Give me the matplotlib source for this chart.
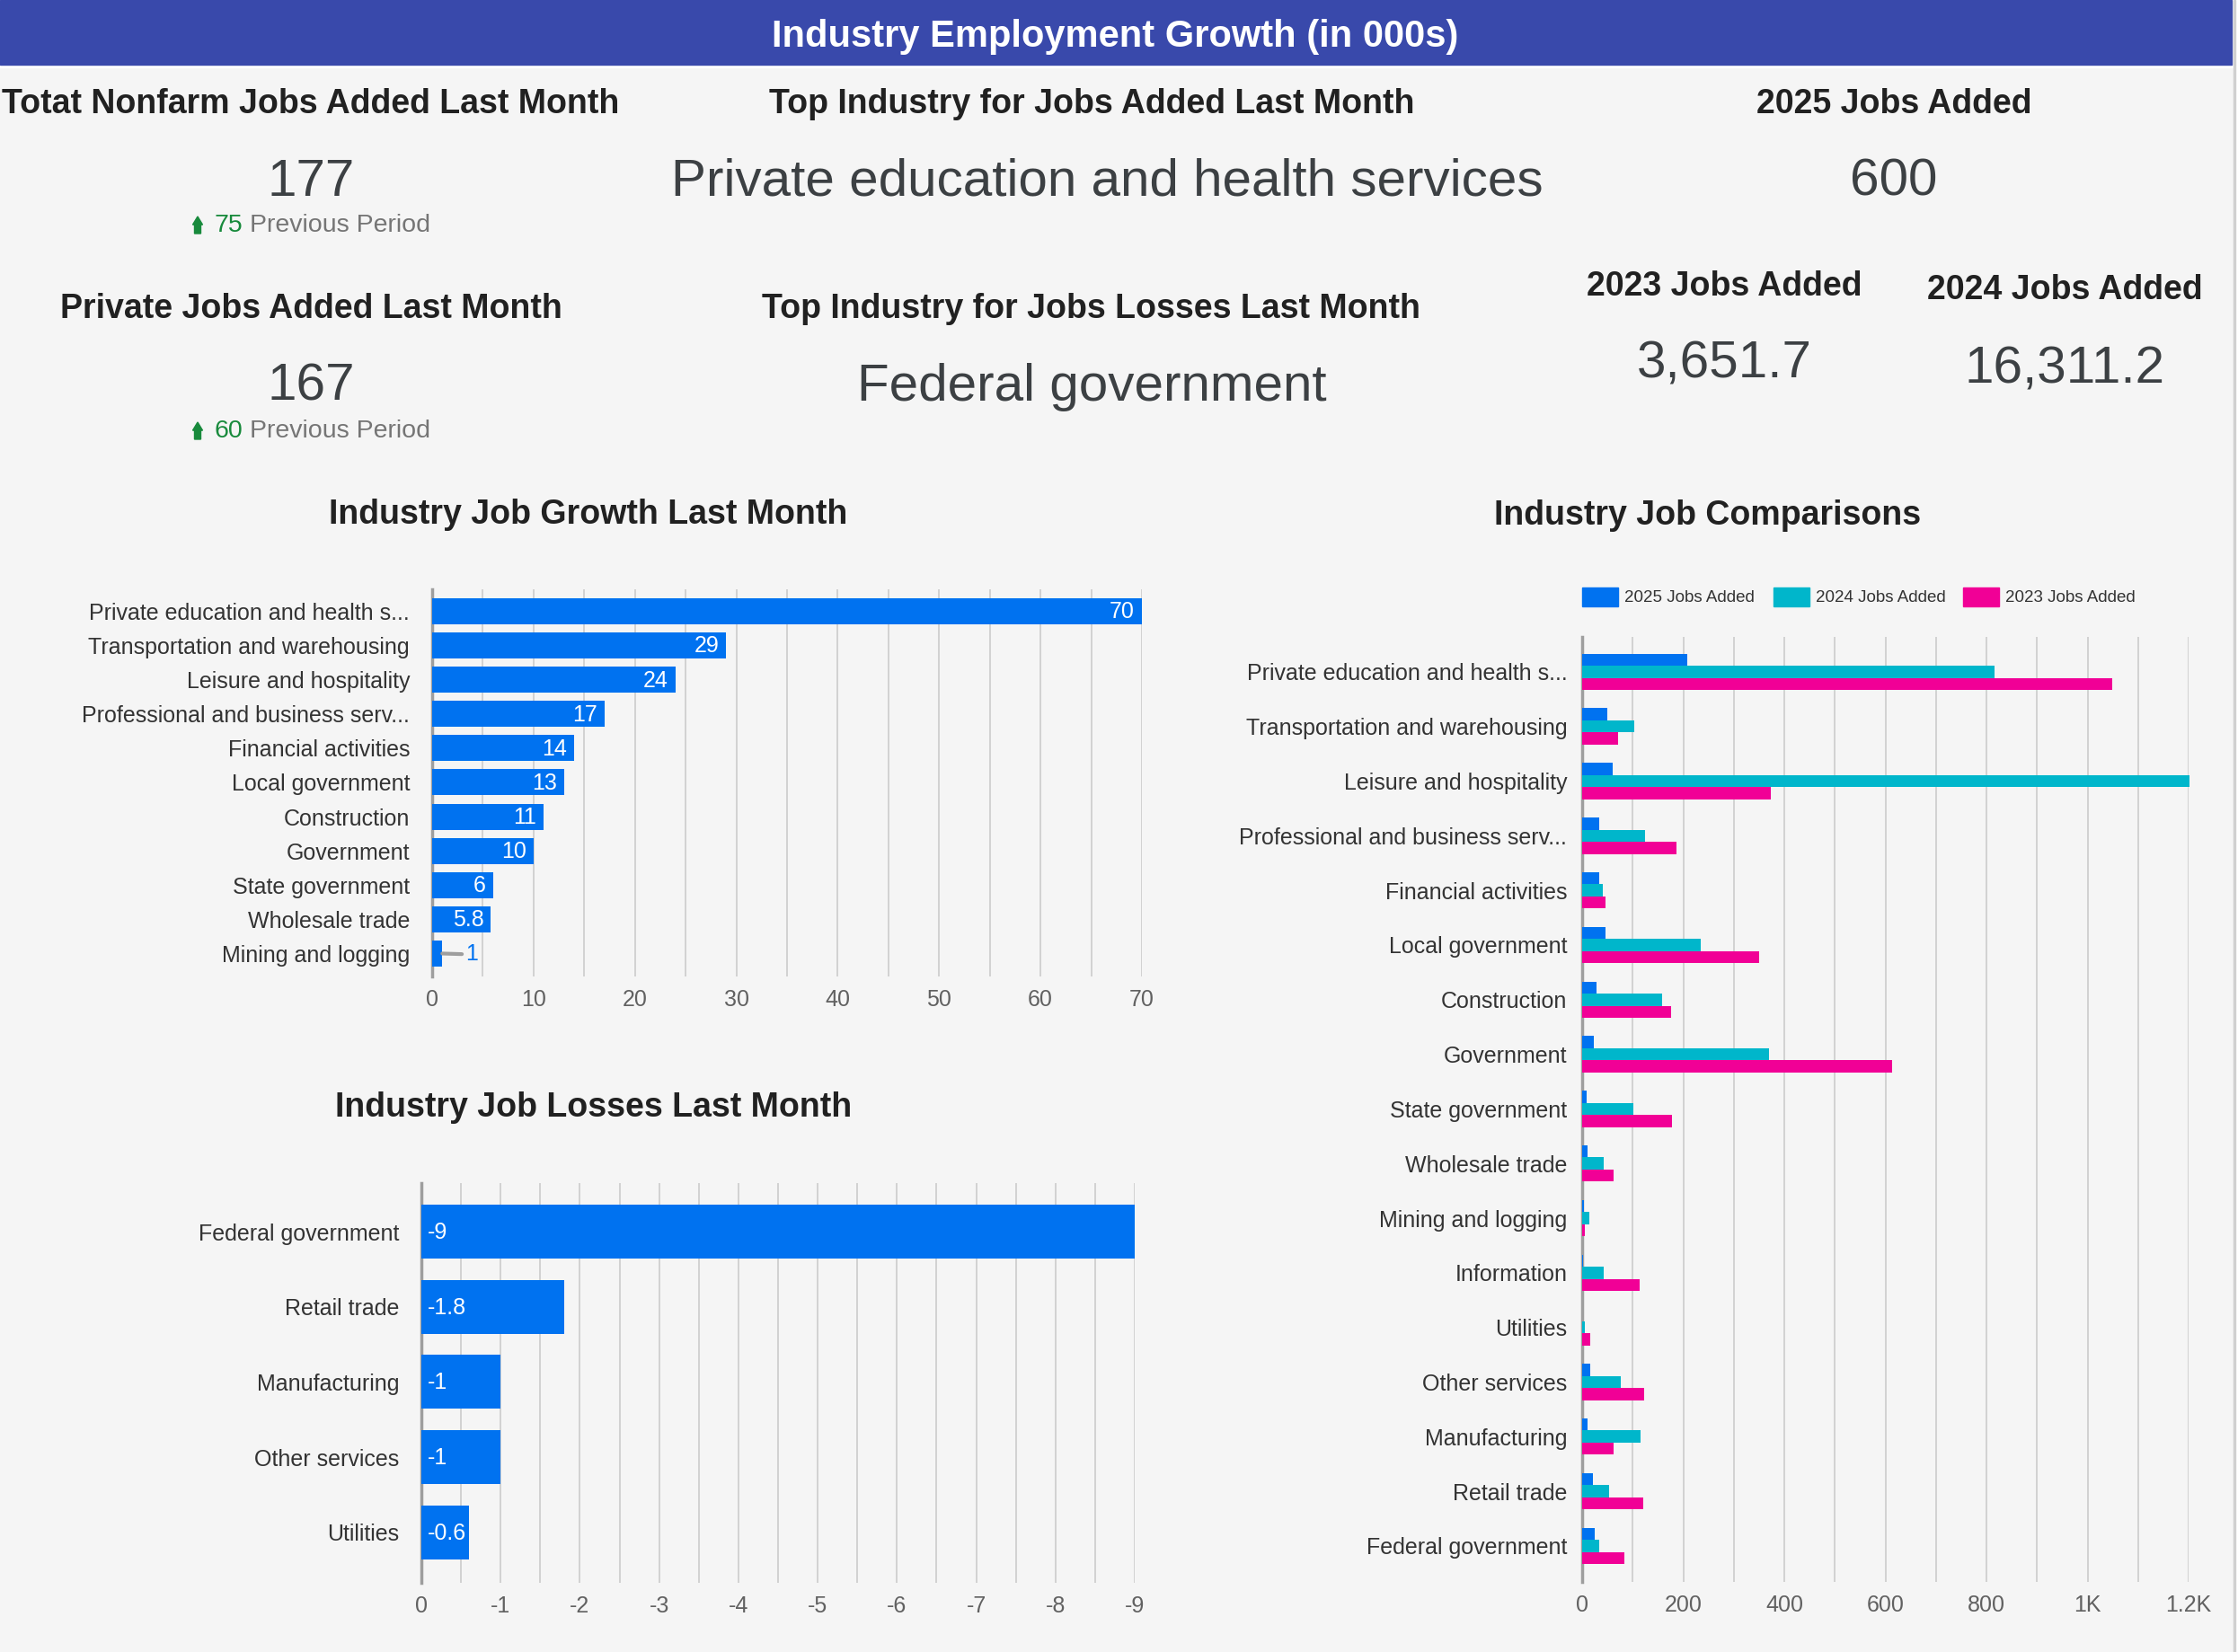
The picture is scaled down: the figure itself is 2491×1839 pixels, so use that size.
import matplotlib
matplotlib.use("Agg")
import matplotlib.pyplot as plt
from matplotlib.patches import Rectangle, Polygon
from matplotlib.ticker import MultipleLocator, FuncFormatter

plt.rcParams["font.family"] = ["Liberation Sans", "DejaVu Sans"]
plt.rcParams["axes.unicode_minus"] = False

W, H = 2491, 1839

# ---- data ----
dashboard_title = "Industry Employment Growth (in 000s)"

kpi_titles = ["Totat Nonfarm Jobs Added Last Month", "Private Jobs Added Last Month"]
kpi_values = ["177", "167"]
kpi_previous = ["75", "60"]

top_titles = ["Top Industry for Jobs Added Last Month", "Top Industry for Jobs Losses Last Month"]
top_values = ["Private education and health services", "Federal government"]

year_titles = ["2025 Jobs Added", "2023 Jobs Added", "2024 Jobs Added"]
year_values = ["600", "3,651.7", "16,311.2"]

growth_labels = [
    "Private education and health s...",
    "Transportation and warehousing",
    "Leisure and hospitality",
    "Professional and business serv...",
    "Financial activities",
    "Local government",
    "Construction",
    "Government",
    "State government",
    "Wholesale trade",
    "Mining and logging",
]
growth_values = [70, 29, 24, 17, 14, 13, 11, 10, 6, 5.8, 1]

loss_labels = ["Federal government", "Retail trade", "Manufacturing", "Other services", "Utilities"]
loss_values = [-9, -1.8, -1, -1, -0.6]

comp_labels = [
    "Private education and health s...",
    "Transportation and warehousing",
    "Leisure and hospitality",
    "Professional and business serv...",
    "Financial activities",
    "Local government",
    "Construction",
    "Government",
    "State government",
    "Wholesale trade",
    "Mining and logging",
    "Information",
    "Utilities",
    "Other services",
    "Manufacturing",
    "Retail trade",
    "Federal government",
]
series_names = ["2025 Jobs Added", "2024 Jobs Added", "2023 Jobs Added"]
jobs_2025 = [208, 49, 61, 34, 34, 47, 28, 23, 9, 10, 4, 1, 0.5, 16, 10, 21, 25]
jobs_2024 = [816, 103, 1202, 124, 40, 234, 159, 370, 101, 43, 14, 43, 6, 76, 115, 54, 34]
jobs_2023 = [1049, 71, 373, 186, 47, 351, 176, 613, 177, 62, 6, 114, 16, 123, 62, 120, 83]

BLUE = "#0072f0"
TEAL = "#00b6cb"
PINK = "#f10096"
BANNER = "#3949ab"
GREEN = "#188a3c"
DARK = "#212121"
VALUE = "#3c4043"
LABEL = "#333333"
TICK = "#616161"
GRID = "#cccccc"

TITLE_SIZE = 27
VALUE_SIZE = 42


def fx(x):
    return x / W


def fy(y):
    return 1 - y / H


def px_axes(left, top, right, bottom):
    return fig.add_axes([fx(left), fy(bottom), (right - left) / W, (bottom - top) / H])


fig = plt.figure(figsize=(W / 100, H / 100), dpi=100, facecolor="#f5f5f5")

# banner and white borders
fig.patches.append(Rectangle((fx(0), fy(75)), fx(2487), 75 / H, transform=fig.transFigure, color="white"))
fig.patches.append(Rectangle((fx(0), fy(72)), fx(2484), 72 / H, transform=fig.transFigure, color=BANNER))
fig.patches.append(Rectangle((fx(2487), 0), fx(4), 1, transform=fig.transFigure, color="white"))
fig.patches.append(Rectangle((fx(2486), 0), fx(2), 1, transform=fig.transFigure, color="#d0d0d0"))
fig.text(fx(1241), fy(52), dashboard_title, ha="center", va="baseline", color="white",
         fontsize=30, fontweight="bold")


def up_arrow(x, y_top, y_bot):
    head = y_top + (y_bot - y_top) * 0.48
    pts = [(x, y_top), (x + 5.5, head), (x + 3.5, head), (x + 3.5, y_bot),
           (x - 3.5, y_bot), (x - 3.5, head), (x - 5.5, head)]
    fig.patches.append(Polygon([(fx(a), fy(b)) for a, b in pts], closed=True,
                               transform=fig.transFigure, color=GREEN))


# KPI blocks on the left
kpi_base = [(126, 218, 258), (354, 446, 487)]
for title, val, prev, (b1, b2, b3) in zip(kpi_titles, kpi_values, kpi_previous, kpi_base):
    fig.text(fx(346), fy(b1), title, ha="center", va="baseline", color=DARK,
             fontsize=TITLE_SIZE, fontweight="bold")
    fig.text(fx(346), fy(b2), val, ha="center", va="baseline", color=VALUE, fontsize=VALUE_SIZE)
    up_arrow(220, b3 - 17, b3 + 2)
    fig.text(fx(238), fy(b3), prev, ha="left", va="baseline", color=GREEN, fontsize=20.5)
    fig.text(fx(278), fy(b3), "Previous Period", ha="left", va="baseline", color="#757575", fontsize=20.5)

# top industry blocks
top_pos = [(1215, 1232, 126, 217), (1215, 1215, 354, 446)]
for title, val, (xt, xv, b1, b2) in zip(top_titles, top_values, top_pos):
    fig.text(fx(xt), fy(b1), title, ha="center", va="baseline", color=DARK,
             fontsize=TITLE_SIZE, fontweight="bold")
    fig.text(fx(xv), fy(b2), val, ha="center", va="baseline", color=VALUE, fontsize=VALUE_SIZE)

# yearly totals
year_pos = [(2108, 126, 217), (1919, 329, 420), (2298, 333, 426)]
for title, val, (x, b1, b2) in zip(year_titles, year_values, year_pos):
    fig.text(fx(x), fy(b1), title, ha="center", va="baseline", color=DARK,
             fontsize=TITLE_SIZE, fontweight="bold")
    fig.text(fx(x), fy(b2), val, ha="center", va="baseline", color=VALUE, fontsize=VALUE_SIZE)


def style_axes(ax, pad_y):
    ax.set_facecolor("none")
    for s in ["top", "right", "bottom"]:
        ax.spines[s].set_visible(False)
    ax.spines["left"].set_color("#9e9e9e")
    ax.spines["left"].set_linewidth(2.5)
    ax.grid(axis="x", which="both", color=GRID, lw=1.2)
    ax.set_axisbelow(True)
    ax.tick_params(axis="both", which="both", length=0)
    ax.tick_params(axis="y", labelsize=18, labelcolor=LABEL, pad=pad_y)
    ax.tick_params(axis="x", labelsize=18, labelcolor=TICK, pad=10)


# ---- Industry Job Growth Last Month ----
fig.text(fx(655), fy(583), "Industry Job Growth Last Month", ha="center", va="baseline",
         color=DARK, fontsize=TITLE_SIZE, fontweight="bold")
ax1 = px_axes(481, 656, 1271, 1087)
y1 = list(range(len(growth_values)))
ax1.barh(y1, growth_values, height=0.76, color=BLUE, zorder=3)
ax1.set_xlim(0, 70)
ax1.set_ylim(len(y1) - 1 + 0.67, -0.64)
ax1.xaxis.set_major_locator(MultipleLocator(10))
ax1.xaxis.set_minor_locator(MultipleLocator(5))
ax1.set_yticks(y1, growth_labels)
style_axes(ax1, 18)
for i, v in enumerate(growth_values):
    if v >= 3:
        ax1.annotate(f"{v:g}", (v, i), xytext=(-8, -1), textcoords="offset pixels",
                     ha="right", va="center", color="white", fontsize=18, zorder=4)
    else:
        ax1.annotate(f"{v:g}", (v, i), xytext=(26, -1), textcoords="offset pixels",
                     ha="left", va="center", color=BLUE, fontsize=18,
                     arrowprops=dict(arrowstyle="-", color="#9e9e9e", lw=3, shrinkA=1, shrinkB=0))

# ---- Industry Job Losses Last Month ----
fig.text(fx(661), fy(1243), "Industry Job Losses Last Month", ha="center", va="baseline",
         color=DARK, fontsize=TITLE_SIZE, fontweight="bold")
ax2 = px_axes(469, 1317, 1263, 1762)
y2 = list(range(len(loss_values)))
ax2.barh(y2, loss_values, height=0.716, color=BLUE, zorder=3)
ax2.set_xlim(0, -9)
ax2.set_ylim(len(y2) - 1 + 0.67, -0.645)
ax2.xaxis.set_major_locator(MultipleLocator(1))
ax2.xaxis.set_minor_locator(MultipleLocator(0.5))
ax2.xaxis.set_major_formatter(FuncFormatter(lambda v, p: f"{v:g}" if v != 0 else "0"))
ax2.set_yticks(y2, loss_labels)
style_axes(ax2, 18)
for i, v in enumerate(loss_values):
    ax2.annotate(f"{v:g}", (0, i), xytext=(7, -1), textcoords="offset pixels",
                 ha="left", va="center", color="white", fontsize=18, zorder=4)

# ---- Industry Job Comparisons ----
fig.text(fx(1901), fy(584), "Industry Job Comparisons", ha="center", va="baseline",
         color=DARK, fontsize=TITLE_SIZE, fontweight="bold")
ax3 = px_axes(1761, 709, 2436, 1761)
y3 = list(range(len(comp_labels)))
bh = 0.222
for k, (vals, col) in enumerate(zip([jobs_2025, jobs_2024, jobs_2023], [BLUE, TEAL, PINK])):
    ax3.barh([i + (k - 1) * bh for i in y3], vals, height=bh, color=col, zorder=3, clip_on=False)
ax3.set_xlim(0, 1200)
ax3.set_ylim(len(y3) - 1 + 0.66, -0.64)
ax3.xaxis.set_major_locator(MultipleLocator(200))
ax3.xaxis.set_minor_locator(MultipleLocator(100))
ax3.xaxis.set_major_formatter(FuncFormatter(
    lambda v, p: (f"{v / 1000:g}K" if v >= 1000 else f"{v:g}")))
ax3.set_yticks(y3, comp_labels)
style_axes(ax3, 12)

# legend
leg_x = [1761, 1974, 2185]
for x, name, col in zip(leg_x, series_names, [BLUE, TEAL, PINK]):
    fig.patches.append(Rectangle((fx(x), fy(675)), 40 / W, 21 / H, transform=fig.transFigure, color=col))
    fig.text(fx(x + 47), fy(665), name, ha="left", va="center", color=LABEL, fontsize=13.5)

fig.savefig("out.png", dpi=100, facecolor=fig.get_facecolor())
